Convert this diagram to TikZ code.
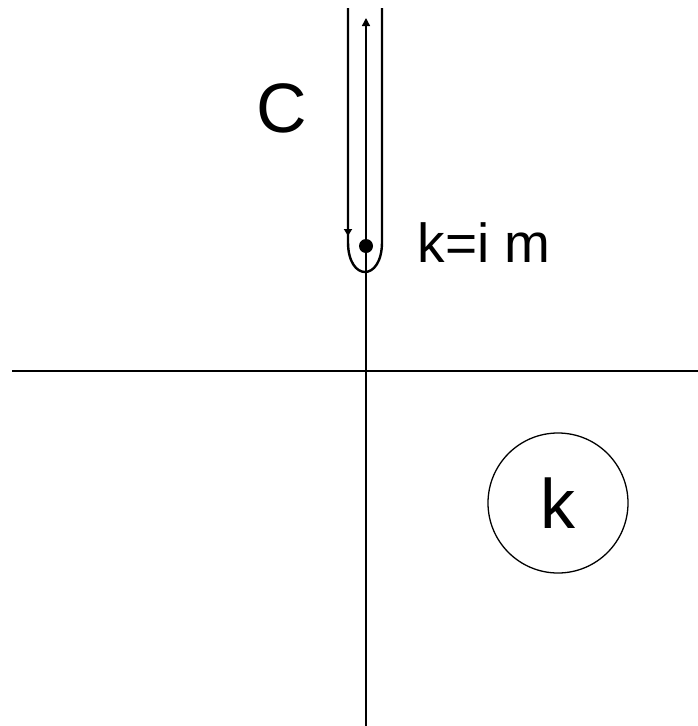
\documentclass[tikz,border=0pt]{standalone}
\usepackage{fontspec}
\setmainfont{Liberation Sans}
\usetikzlibrary{arrows.meta,decorations.markings}
\tikzset{
  axis line/.style={draw=black,line width=2.8pt},
  imag line/.style={draw=black,line width=1.4pt},
  contour line/.style={draw=black,line width=2.4pt},
  big label/.style={inner sep=0pt,font=\fontsize{70}{80}\selectfont},
  pole label/.style={inner sep=0pt,font=\fontsize{55}{64}\selectfont},
  pole dot/.style={circle,fill=black,inner sep=0pt,minimum size=14pt}
}

\begin{document}
\begin{tikzpicture}[x=1pt,y=-1pt]
    \useasboundingbox (0,0) rectangle (698,726);
    % axes
    \coordinate (west) at (12,371);
    \coordinate (east) at (698,371);
    \coordinate (north) at (366,18);
    \coordinate (south) at (366,726);
    \draw[axis line] (west) -- (east);
    \draw[imag line,{Triangle[length=8pt,width=8pt]}-] (north) -- (south);
    % contour C around the cut
    \coordinate (cl) at (348,8);
    \coordinate (cr) at (382,8);
    \draw[contour line,decoration={markings,
        mark=at position 228pt with {\arrow{Triangle[length=7pt,width=8pt]}}},
        postaction={decorate}]
      (cl) -- (348,242) .. controls (348,282) and (382,282) .. (382,242) -- (cr);
    \node[pole dot] (pole) at (366,246) {};
    \node[big label] (clab) at (282,108) {C};
    \node[pole label] (plab) at (484,243) {k=i m};
    % k plane marker
    \node[draw,circle,line width=1.3pt,minimum size=140pt,inner sep=0pt,
      font=\fontsize{70}{80}\selectfont] (kplane) at (558,503) {k};
  \end{tikzpicture}
\end{document}
